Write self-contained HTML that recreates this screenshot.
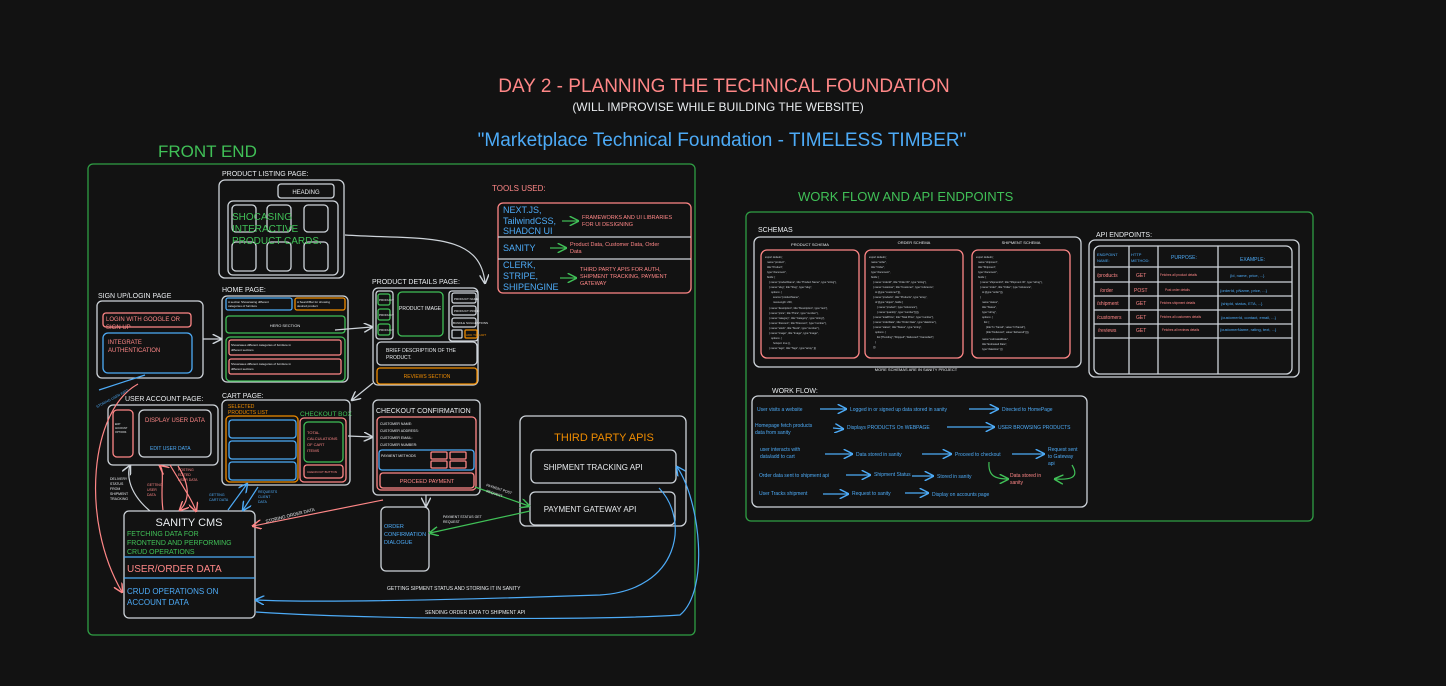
<!DOCTYPE html>
<html><head><meta charset="utf-8"><style>
html,body{margin:0;padding:0;background:#121212;width:1446px;height:686px;overflow:hidden}
svg{display:block}
text{font-family:"Liberation Sans",sans-serif}
</style></head><body>
<svg width="1446" height="686" viewBox="0 0 1446 686" xmlns="http://www.w3.org/2000/svg">
<defs>
<marker id="aw" markerWidth="8" markerHeight="8" refX="7" refY="4" orient="auto"><path d="M0,0 L8,4 L0,8" fill="none" stroke="#ced4da" stroke-width="1.2"/></marker>
<marker id="ar" markerWidth="8" markerHeight="8" refX="7" refY="4" orient="auto"><path d="M0,0 L8,4 L0,8" fill="none" stroke="#ff8787" stroke-width="1.2"/></marker>
<marker id="ab" markerWidth="8" markerHeight="8" refX="7" refY="4" orient="auto"><path d="M0,0 L8,4 L0,8" fill="none" stroke="#4dabf7" stroke-width="1.2"/></marker>
<marker id="ag" markerWidth="8" markerHeight="8" refX="7" refY="4" orient="auto"><path d="M0,0 L8,4 L0,8" fill="none" stroke="#40c057" stroke-width="1.2"/></marker>
</defs>
<rect width="1446" height="686" fill="#121212"/>

<text x="724" y="92" text-anchor="middle" font-size="19" fill="#ff8787">DAY 2 - PLANNING THE TECHNICAL FOUNDATION</text>
<text x="718" y="111" text-anchor="middle" font-size="12" fill="#e9ecef">(WILL IMPROVISE WHILE BUILDING THE WEBSITE)</text>
<text x="722" y="146" text-anchor="middle" font-size="19" fill="#4dabf7">"Marketplace Technical Foundation - TIMELESS TIMBER"</text>
<text x="158" y="157" font-size="17" fill="#40c057">FRONT END</text>
<text x="798" y="201" font-size="13" fill="#40c057">WORK FLOW AND API ENDPOINTS</text>

<rect x="88" y="164" width="607" height="471" rx="5" fill="none" stroke="#2f9e44" stroke-width="1.3"/>
<rect x="746" y="212" width="567" height="309" rx="5" fill="none" stroke="#2f9e44" stroke-width="1.3"/>

<g fill="none" stroke-width="1.3">
<rect x="219" y="180" width="125" height="98" rx="6" stroke="#ced4da"/>
<rect x="278" y="184" width="56" height="14" rx="3" stroke="#ced4da"/>
<rect x="228" y="201" width="110" height="74" rx="5" stroke="#ced4da"/>
<rect x="232" y="205" width="24" height="27" rx="4" stroke="#ced4da"/>
<rect x="267" y="205" width="24" height="27" rx="4" stroke="#ced4da"/>
<rect x="304" y="205" width="24" height="27" rx="4" stroke="#ced4da"/>
<rect x="232" y="242" width="24" height="29" rx="4" stroke="#ced4da"/>
<rect x="267" y="242" width="24" height="29" rx="4" stroke="#ced4da"/>
<rect x="304" y="242" width="24" height="29" rx="4" stroke="#ced4da"/>
<rect x="222" y="296" width="126" height="86" rx="5" stroke="#ced4da"/>
<rect x="226" y="298" width="66" height="12" rx="2" stroke="#4dabf7"/>
<rect x="295" y="298" width="50" height="12" rx="2" stroke="#f08c00"/>
<rect x="226" y="316" width="119" height="17" rx="3" stroke="#40c057"/>
<rect x="226" y="337" width="119" height="44" rx="4" stroke="#40c057"/>
<rect x="229" y="340" width="112" height="15" rx="2" stroke="#ff8787"/>
<rect x="229" y="359" width="112" height="15" rx="2" stroke="#ff8787"/>
<rect x="97" y="301" width="106" height="77" rx="5" stroke="#ced4da"/>
<rect x="103" y="313" width="88" height="14" rx="3" stroke="#ff8787"/>
<rect x="103" y="333" width="89" height="40" rx="5" stroke="#4dabf7"/>
<rect x="373" y="288" width="105" height="97" rx="5" stroke="#ced4da"/>
<rect x="376" y="291" width="17" height="48" rx="3" stroke="#ced4da"/>
<rect x="378" y="294" width="12" height="11" rx="2" stroke="#40c057"/>
<rect x="378" y="309" width="12" height="11" rx="2" stroke="#40c057"/>
<rect x="378" y="324" width="12" height="11" rx="2" stroke="#40c057"/>
<rect x="398" y="292" width="45" height="44" rx="4" stroke="#40c057"/>
<rect x="449" y="291" width="29" height="50" rx="3" stroke="#ced4da"/>
<rect x="452" y="293" width="24" height="10" rx="2" stroke="#ced4da"/>
<rect x="452" y="306" width="24" height="9" rx="2" stroke="#ced4da"/>
<rect x="452" y="318" width="24" height="9" rx="2" stroke="#ced4da"/>
<rect x="452" y="330" width="10" height="8" rx="1" stroke="#ced4da"/>
<rect x="465" y="330" width="12" height="8" rx="1" stroke="#f08c00"/>
<rect x="377" y="342" width="100" height="23" rx="4" stroke="#ced4da"/>
<rect x="377" y="368" width="100" height="16" rx="3" stroke="#f08c00"/>
<rect x="498" y="203" width="193" height="90" rx="5" stroke="#ff8787"/>
<line x1="498" y1="237" x2="691" y2="237" stroke="#ced4da"/>
<line x1="498" y1="259" x2="691" y2="259" stroke="#ced4da"/>
<rect x="108" y="405" width="110" height="60" rx="5" stroke="#ced4da"/>
<rect x="113" y="410" width="20" height="47" rx="4" stroke="#ff8787"/>
<rect x="139" y="410" width="72" height="47" rx="5" stroke="#ced4da"/>
<rect x="222" y="400" width="128" height="85" rx="5" stroke="#ced4da"/>
<rect x="226" y="416" width="72" height="66" rx="4" stroke="#f08c00"/>
<rect x="229" y="420" width="67" height="18" rx="3" stroke="#4dabf7"/>
<rect x="229" y="441" width="67" height="18" rx="3" stroke="#4dabf7"/>
<rect x="229" y="462" width="67" height="18" rx="3" stroke="#4dabf7"/>
<rect x="300" y="418" width="46" height="64" rx="4" stroke="#ff8787"/>
<rect x="304" y="422" width="39" height="40" rx="4" stroke="#40c057"/>
<rect x="304" y="465" width="39" height="13" rx="3" stroke="#ff8787"/>
<rect x="373" y="400" width="107" height="95" rx="5" stroke="#ced4da"/>
<rect x="377" y="417" width="99" height="73" rx="4" stroke="#ff8787"/>
<rect x="379" y="450" width="95" height="20" rx="3" stroke="#4dabf7"/>
<rect x="431" y="452" width="16" height="7" rx="1" stroke="#ff8787"/>
<rect x="450" y="452" width="16" height="7" rx="1" stroke="#ff8787"/>
<rect x="431" y="461" width="16" height="7" rx="1" stroke="#ff8787"/>
<rect x="450" y="461" width="16" height="7" rx="1" stroke="#ff8787"/>
<rect x="380" y="473" width="94" height="15" rx="3" stroke="#ff8787"/>
<rect x="381" y="507" width="48" height="64" rx="5" stroke="#ced4da"/>
<rect x="520" y="416" width="166" height="110" rx="6" stroke="#ced4da"/>
<rect x="531" y="450" width="145" height="33" rx="5" stroke="#ced4da"/>
<rect x="530" y="492" width="145" height="33" rx="5" stroke="#ced4da"/>
<rect x="124" y="511" width="131" height="107" rx="5" stroke="#ced4da"/>
<line x1="124" y1="557" x2="255" y2="557" stroke="#4dabf7"/>
<line x1="124" y1="578" x2="255" y2="578" stroke="#4dabf7"/>
<rect x="754" y="237" width="327" height="130" rx="6" stroke="#ced4da"/>
<rect x="761" y="250" width="98" height="108" rx="6" stroke="#ff8787"/>
<rect x="865" y="250" width="98" height="108" rx="6" stroke="#ff8787"/>
<rect x="972" y="250" width="98" height="108" rx="6" stroke="#ff8787"/>
<rect x="1089" y="240" width="210" height="137" rx="6" stroke="#ced4da"/>
<rect x="1094" y="246" width="198" height="128" rx="6" stroke="#ced4da"/>
<g stroke="#ced4da">
<line x1="1129" y1="246" x2="1129" y2="374"/><line x1="1158" y1="246" x2="1158" y2="374"/><line x1="1218" y1="246" x2="1218" y2="374"/>
<line x1="1094" y1="267" x2="1292" y2="267"/><line x1="1094" y1="282" x2="1292" y2="282"/><line x1="1094" y1="296" x2="1292" y2="296"/>
<line x1="1094" y1="310" x2="1292" y2="310"/><line x1="1094" y1="324" x2="1292" y2="324"/><line x1="1094" y1="338" x2="1292" y2="338"/>
</g>
<rect x="752" y="396" width="335" height="111" rx="6" stroke="#ced4da"/>
</g>

<g fill="none" stroke-width="1.2">
<path d="M345 235 C420 240 480 230 485 283" stroke="#ced4da" marker-end="url(#aw)"/>
<line x1="203" y1="339" x2="221" y2="339" stroke="#ced4da" marker-end="url(#aw)"/>
<line x1="335" y1="330" x2="372" y2="327" stroke="#ced4da" marker-end="url(#aw)"/>
<line x1="373" y1="383" x2="352" y2="400" stroke="#ced4da" marker-end="url(#aw)"/>
<line x1="348" y1="436" x2="372" y2="437" stroke="#ced4da" marker-end="url(#aw)"/>
<line x1="426" y1="495" x2="426" y2="506" stroke="#ced4da" marker-end="url(#aw)"/>
<path d="M150 511 C125 490 128 470 130 466" stroke="#ced4da" marker-end="url(#aw)"/>
<path d="M163 510 C160 490 165 470 160 466" stroke="#ff8787" marker-end="url(#ar)"/>
<path d="M178 466 C190 485 190 500 180 510" stroke="#ff8787" marker-end="url(#ar)"/>
<path d="M170 465 C185 490 192 500 196 511" stroke="#ff8787" marker-end="url(#ar)"/>
<path d="M138 384 C90 410 80 520 122 592" stroke="#ff8787" marker-end="url(#ar)"/>
<line x1="99" y1="390" x2="145" y2="375" stroke="#4dabf7"/>
<line x1="228" y1="510" x2="247" y2="484" stroke="#4dabf7" marker-end="url(#ab)"/>
<line x1="258" y1="487" x2="243" y2="510" stroke="#4dabf7" marker-end="url(#ab)"/>
<line x1="383" y1="500" x2="253" y2="526" stroke="#ff8787" marker-end="url(#ar)"/>
<line x1="475" y1="487" x2="529" y2="506" stroke="#40c057" marker-end="url(#ag)"/>
<line x1="530" y1="511" x2="430" y2="533" stroke="#40c057" marker-end="url(#ag)"/>
<path d="M659 488 C690 520 680 590 600 595 C450 600 320 603 256 600" stroke="#4dabf7" marker-end="url(#ab)"/>
<path d="M256 612 C380 620 600 620 680 615 C710 590 700 500 677 467" stroke="#4dabf7" marker-end="url(#ab)"/>
<line x1="562" y1="221" x2="578" y2="221" stroke="#40c057" marker-end="url(#ag)"/>
<line x1="550" y1="248" x2="566" y2="248" stroke="#40c057" marker-end="url(#ag)"/>
<line x1="560" y1="278" x2="576" y2="278" stroke="#40c057" marker-end="url(#ag)"/>
</g>

<g font-size="7" fill="#e9ecef">
<text x="222" y="176">PRODUCT LISTING PAGE:</text>
<text x="222" y="292">HOME PAGE:</text>
<text x="98" y="298">SIGN UP/LOGIN PAGE</text>
<text x="372" y="284">PRODUCT DETAILS PAGE:</text>
<text x="125" y="401">USER ACCOUNT PAGE:</text>
<text x="222" y="398">CART PAGE:</text>
<text x="376" y="413">CHECKOUT CONFIRMATION</text>
</g>
<text x="306" y="194" font-size="6" fill="#e9ecef" text-anchor="middle">HEADING</text>
<g font-size="10" fill="#40c057"><text x="232" y="220">SHOCASING</text><text x="232" y="232">INTERACTIVE</text><text x="232" y="244">PRODUCT CARDS.</text></g>
<g font-size="3" fill="#e9ecef"><text x="228" y="303">A section Showcasing different</text><text x="228" y="307">categories of furniture</text><text x="297" y="303">A SearchBar for showing</text><text x="297" y="307">desired product</text>
<text x="231" y="346">Showcases different categories of furniture in</text><text x="231" y="351">different sections</text><text x="231" y="365">Showcases different categories of furniture in</text><text x="231" y="370">different sections</text></g>
<text x="285" y="327" font-size="4" fill="#e9ecef" text-anchor="middle">HERO SECTION</text>
<g font-size="6" fill="#ff8787"><text x="106" y="321">LOGIN WITH GOOGLE OR</text><text x="106" y="329">SIGN UP</text><text x="108" y="344">INTEGRATE</text><text x="108" y="352">AUTHENTICATION</text></g>
<text x="399" y="310" font-size="5" fill="#e9ecef">PRODUCT IMAGE</text>
<g font-size="3" fill="#e9ecef"><text x="454" y="300">PRODUCT NAME:</text><text x="454" y="312">PRODUCT PRICE:</text><text x="453" y="324">BUNDLE SUGGESTIONS</text><text x="379" y="301">PRODUCT</text><text x="379" y="316">PRODUCT</text><text x="379" y="331">PRODUCT</text></g>
<text x="466" y="336" font-size="3" fill="#f08c00">ADD TO CART</text>
<g font-size="5" fill="#e9ecef"><text x="386" y="352">BRIEF DESCRIPTION OF THE</text><text x="386" y="359">PRODUCT.</text></g>
<text x="427" y="378" font-size="5" fill="#f08c00" text-anchor="middle">REVIEWS SECTION</text>
<text x="492" y="191" font-size="8" fill="#ff8787">TOOLS USED:</text>
<g font-size="9" fill="#4dabf7"><text x="503" y="213">NEXT.JS,</text><text x="503" y="224">TailwindCSS,</text><text x="503" y="234">SHADCN UI</text><text x="503" y="251">SANITY</text><text x="503" y="268">CLERK,</text><text x="503" y="279">STRIPE,</text><text x="503" y="290">SHIPENGINE</text></g>
<g font-size="5.5" fill="#ff8787"><text x="582" y="219">FRAMEWORKS AND UI LIBRARIES</text><text x="582" y="226">FOR UI DESIGNING</text><text x="570" y="246">Product Data, Customer Data, Order</text><text x="570" y="253">Data</text><text x="580" y="271">THIRD PARTY APIS FOR AUTH,</text><text x="580" y="278">SHIPMENT TRACKING, PAYMENT</text><text x="580" y="285">GATEWAY</text></g>
<text x="145" y="422" font-size="6" fill="#ff8787">DISPLAY USER DATA</text>
<text x="150" y="450" font-size="5" fill="#4dabf7">EDIT USER DATA</text>
<g font-size="2.5" fill="#e9ecef"><text x="115" y="425">EDIT</text><text x="115" y="429">ACCOUNT</text><text x="115" y="433">OPTIONS</text></g>
<g font-size="5" fill="#f08c00"><text x="228" y="408">SELECTED</text><text x="228" y="414">PRODUCTS LIST</text></g>
<text x="300" y="416" font-size="6.5" fill="#40c057">CHECKOUT BOX</text>
<g font-size="4" fill="#ff8787"><text x="307" y="434">TOTAL</text><text x="307" y="440">CALCULATIONS</text><text x="307" y="446">OF CART</text><text x="307" y="452">ITEMS</text></g>
<text x="307" y="473" font-size="3" fill="#ff8787">CHECKOUT BUTTON</text>
<g font-size="3.5" fill="#e9ecef"><text x="380" y="425">CUSTOMER NAME:</text><text x="380" y="432">CUSTOMER ADDRESS:</text><text x="380" y="439">CUSTOMER EMAIL:</text><text x="380" y="446">CUSTOMER NUMBER:</text><text x="381" y="457">PAYMENT METHODS</text></g>
<text x="427" y="483" font-size="5.5" fill="#ff8787" text-anchor="middle">PROCEED PAYMENT</text>
<g font-size="5.5" fill="#4dabf7"><text x="384" y="528">ORDER</text><text x="384" y="536">CONFIRMATION</text><text x="384" y="544">DIALOGUE</text></g>
<text x="604" y="441" font-size="11" fill="#f08c00" text-anchor="middle">THIRD PARTY APIS</text>
<text x="593" y="470" font-size="8" fill="#e9ecef" text-anchor="middle">SHIPMENT TRACKING API</text>
<text x="590" y="512" font-size="8" fill="#e9ecef" text-anchor="middle">PAYMENT GATEWAY API</text>
<text x="189" y="526" font-size="11" fill="#e9ecef" text-anchor="middle">SANITY CMS</text>
<g font-size="7" fill="#40c057"><text x="127" y="536">FETCHING DATA FOR</text><text x="127" y="545">FRONTEND AND PERFORMING</text><text x="127" y="554">CRUD OPERATIONS</text></g>
<text x="127" y="572" font-size="10" fill="#ff8787">USER/ORDER DATA</text>
<g font-size="8" fill="#4dabf7"><text x="127" y="594">CRUD OPERATIONS ON</text><text x="127" y="605">ACCOUNT DATA</text></g>
<g font-size="3.5" fill="#e9ecef"><text x="110" y="480">DELIVERY</text><text x="110" y="485">STATUS</text><text x="110" y="490">FROM</text><text x="110" y="495">SHIPMENT</text><text x="110" y="500">TRACKING</text>
<text x="387" y="590" font-size="5">GETTING SIPMENT STATUS AND STORING IT IN SANITY</text><text x="425" y="614" font-size="5">SENDING ORDER DATA TO SHIPMENT API</text>
<text x="266" y="523" transform="rotate(-14 266 523)" font-size="4.5">STORING ORDER DATA</text>
<text x="486" y="486" transform="rotate(18 486 486)">PAYMENT POST</text><text x="486" y="492" transform="rotate(18 486 492)">REQUEST</text>
<text x="443" y="518">PAYMENT STATUS GET</text><text x="443" y="523">REQUEST</text></g>
<g font-size="3.5" fill="#ff8787"><text x="147" y="486">GETTING</text><text x="147" y="491">USER</text><text x="147" y="496">DATA</text><text x="178" y="471">POSTING</text><text x="178" y="476">EDITED</text><text x="178" y="481">USER DATA</text></g>
<g font-size="3.5" fill="#4dabf7"><text x="209" y="496">GETTING</text><text x="209" y="501">CART DATA</text><text x="258" y="493">REQUESTS</text><text x="258" y="498">CLIENT</text><text x="258" y="503">DATA</text>
<text x="97" y="408" transform="rotate(-28 97 408)">STORING USER INFO</text></g>

<text x="758" y="232" font-size="7" fill="#e9ecef">SCHEMAS</text>
<g font-size="4" fill="#e9ecef"><text x="810" y="246" text-anchor="middle">PRODUCT SCHEMA</text><text x="914" y="244" text-anchor="middle">ORDER SCHEMA</text><text x="1021" y="244" text-anchor="middle">SHIPMENT SCHEMA</text><text x="916" y="371" text-anchor="middle">MORE SCHEMAS ARE IN SANITY PROJECT</text></g>
<g font-size="2.6" fill="#ced4da">
<text x="765" y="258">export default {</text><text x="767" y="263">name:"product",</text><text x="767" y="268">title:"Product",</text><text x="767" y="273">type:"document",</text><text x="767" y="278">fields: [</text><text x="769" y="283">{ name:"productName", title:"Product Name", type:"string"},</text><text x="769" y="288">{ name:"slug", title:"Slug", type:"slug",</text><text x="771" y="293">options: {</text><text x="773" y="298">source:"productName",</text><text x="773" y="303">maxLength: 200,</text><text x="769" y="309">{ name:"description", title:"Description", type:"text"},</text><text x="769" y="314">{ name:"price", title:"Price", type:"number"},</text><text x="769" y="319">{ name:"category", title:"Category", type:"string"},</text><text x="769" y="324">{ name:"discount", title:"Discount", type:"number"},</text><text x="769" y="329">{ name:"stock", title:"Stock", type:"number"},</text><text x="769" y="334">{ name:"image", title:"Image", type:"image",</text><text x="771" y="339">options: {</text><text x="773" y="344">hotspot: true }},</text><text x="769" y="349">{ name:"tags", title:"Tags", type:"array" }]}</text>
<text x="869" y="258">export default {</text><text x="871" y="263">name:"order",</text><text x="871" y="268">title:"Order",</text><text x="871" y="273">type:"document",</text><text x="871" y="278">fields: [</text><text x="873" y="283">{ name:"orderId", title:"Order ID", type:"string"},</text><text x="873" y="288">{ name:"customer", title:"Customer", type:"reference",</text><text x="875" y="293">to:[{type:"customer"}]},</text><text x="873" y="298">{ name:"products", title:"Products", type:"array",</text><text x="875" y="303">of:[{type:"object", fields:[</text><text x="877" y="308">{ name:"product", type:"reference"},</text><text x="877" y="313">{ name:"quantity", type:"number"}]}]},</text><text x="873" y="318">{ name:"totalPrice", title:"Total Price", type:"number"},</text><text x="873" y="323">{ name:"orderDate", title:"Order Date", type:"datetime"},</text><text x="873" y="328">{ name:"status", title:"Status", type:"string",</text><text x="875" y="333">options: {</text><text x="877" y="338">list:["Pending","Shipped","Delivered","Cancelled"]</text><text x="875" y="343">}</text><text x="873" y="348">}]}</text>
<text x="976" y="258">export default {</text><text x="978" y="263">name:"shipment",</text><text x="978" y="268">title:"Shipment",</text><text x="978" y="273">type:"document",</text><text x="978" y="278">fields: [</text><text x="980" y="283">{ name:"shipmentId", title:"Shipment ID", type:"string"},</text><text x="980" y="288">{ name:"order", title:"Order", type:"reference",</text><text x="982" y="293">to:[{type:"order"}]},</text><text x="980" y="298">{</text><text x="982" y="303">name:"status",</text><text x="982" y="308">title:"Status",</text><text x="982" y="313">type:"string",</text><text x="982" y="318">options: {</text><text x="984" y="323">list: [</text><text x="986" y="328">{title:"In Transit", value:"inTransit"},</text><text x="986" y="333">{title:"Delivered", value:"delivered"}]}},</text><text x="982" y="340">name:"estimatedDate",</text><text x="982" y="345">title:"Estimated Date",</text><text x="982" y="350">type:"datetime" }]}</text>
</g>
<text x="1096" y="237" font-size="7" fill="#e9ecef">API ENDPOINTS:</text>
<g font-size="4" fill="#4dabf7"><text x="1097" y="256">ENDPOINT</text><text x="1097" y="262">NAME:</text><text x="1131" y="256">HTTP</text><text x="1131" y="262">METHOD:</text><text x="1171" y="259" font-size="5">PURPOSE:</text><text x="1240" y="261" font-size="5">EXAMPLE:</text></g>
<g font-size="5" fill="#ff8787"><text x="1097" y="277">/products</text><text x="1100" y="292">/order</text><text x="1097" y="305">/shipment</text><text x="1097" y="319">/customers</text><text x="1098" y="332">/reviews</text>
<text x="1136" y="277">GET</text><text x="1134" y="292">POST</text><text x="1136" y="305">GET</text><text x="1136" y="319">GET</text><text x="1136" y="332">GET</text></g>
<g font-size="3.2" fill="#ff8787"><text x="1160" y="276">Fetches all product details</text><text x="1165" y="291">Post order details</text><text x="1160" y="304">Fetches shipment details</text><text x="1160" y="318">Fetches all customers details</text><text x="1162" y="331">Fetches all reviews details</text></g>
<g font-size="4" fill="#4dabf7"><text x="1230" y="277">{id, name, price, ...}</text><text x="1220" y="292">{orderId, pName, price, ...}</text><text x="1221" y="305">{shipId, status, ETA, ...}</text><text x="1221" y="319">{customerId, contact, email, ...}</text><text x="1220" y="331">{customerName, rating, text, ...}</text></g>

<text x="772" y="393" font-size="7" fill="#e9ecef">WORK FLOW:</text>
<g font-size="5" fill="#4dabf7">
<text x="757" y="411">User visits a website</text><text x="850" y="411">Logged in or signed up data stored in sanity</text><text x="1002" y="411">Directed to HomePage</text>
<text x="755" y="427">Homepage fetch products</text><text x="755" y="434">data from sanity</text><text x="847" y="429">Displays PRODUCTS On WEBPAGE</text><text x="998" y="429">USER BROWSING PRODUCTS</text>
<text x="760" y="451">user interacts with</text><text x="760" y="458">data/add to cart</text><text x="856" y="456">Data stored in sanity</text><text x="955" y="456">Proceed to checkout</text><text x="1048" y="451">Request sent</text><text x="1048" y="458">to Gateway</text><text x="1048" y="465">api</text>
<text x="759" y="477">Order data sent to shipment api</text><text x="874" y="476">Shipment Status</text><text x="937" y="478">Stored in sanity</text>
<text x="759" y="495">User Tracks shipment</text><text x="852" y="495">Request to sanity</text><text x="932" y="496">Display on accounts page</text>
</g>
<g font-size="5" fill="#ff8787"><text x="1010" y="477">Data stored in</text><text x="1010" y="484">sanity</text></g>
<g fill="none" stroke="#4dabf7" stroke-width="1.2">
<line x1="820" y1="409" x2="846" y2="409" marker-end="url(#ab)"/><line x1="969" y1="409" x2="998" y2="409" marker-end="url(#ab)"/>
<line x1="833" y1="428" x2="843" y2="429" marker-end="url(#ab)"/><line x1="947" y1="427" x2="994" y2="427" marker-end="url(#ab)"/>
<line x1="825" y1="454" x2="852" y2="454" marker-end="url(#ab)"/><line x1="922" y1="454" x2="951" y2="454" marker-end="url(#ab)"/><line x1="1012" y1="454" x2="1044" y2="454" marker-end="url(#ab)"/>
<line x1="846" y1="475" x2="870" y2="475" marker-end="url(#ab)"/><line x1="912" y1="476" x2="933" y2="476" marker-end="url(#ab)"/>
<line x1="823" y1="494" x2="848" y2="494" marker-end="url(#ab)"/><line x1="905" y1="493" x2="928" y2="493" marker-end="url(#ab)"/>
</g>
<g fill="none" stroke="#40c057" stroke-width="1.2">
<path d="M989 462 C988 476 995 479 1008 479" marker-end="url(#ag)"/>
<path d="M1072 465 C1080 478 1070 480 1055 479" marker-end="url(#ag)"/>
</g>
</svg>
</body></html>
